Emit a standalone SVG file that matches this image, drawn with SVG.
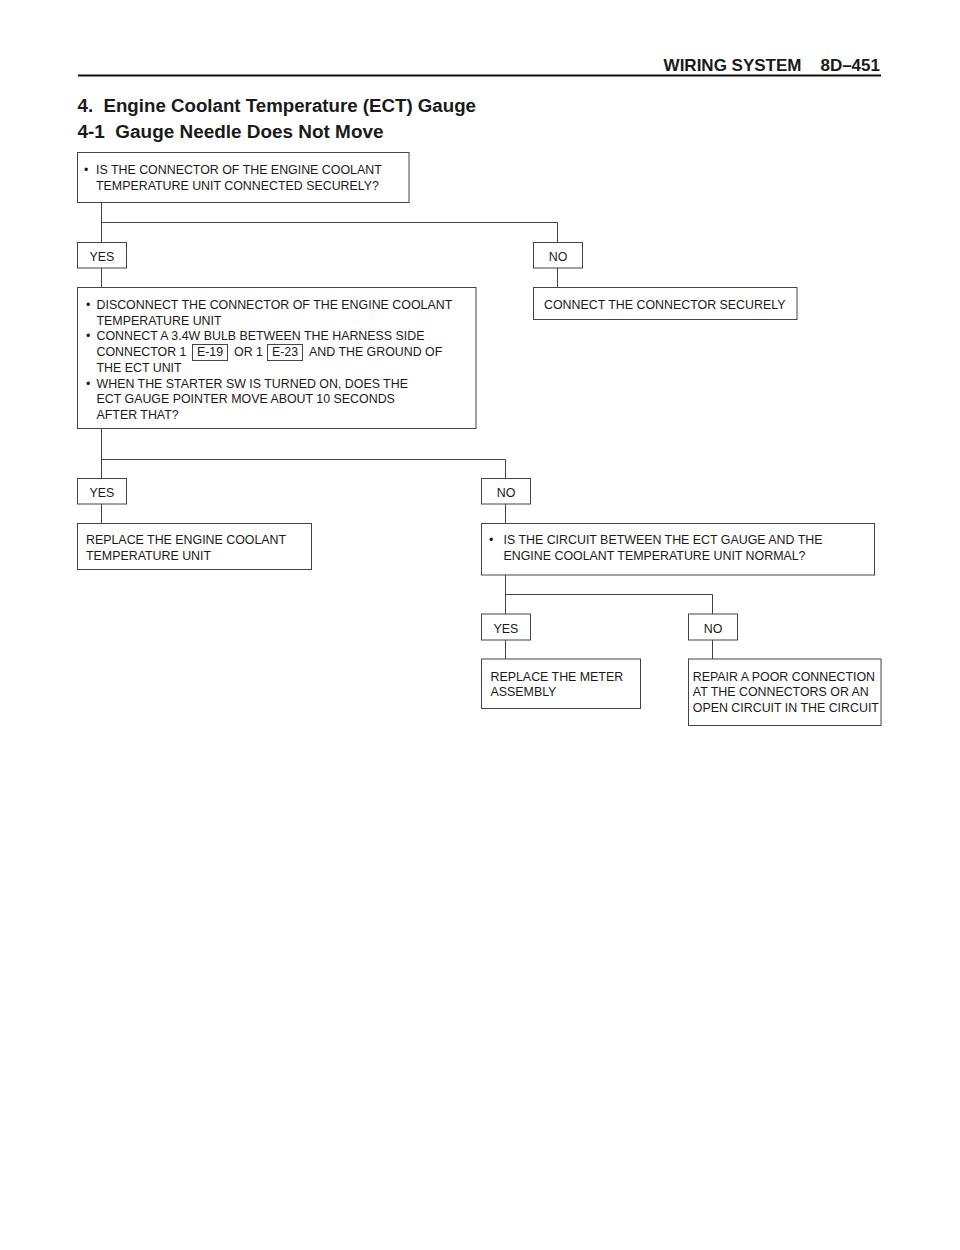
<svg xmlns="http://www.w3.org/2000/svg" width="960" height="1250" viewBox="0 0 960 1250">
<style>
text{font-family:"Liberation Sans",Arial,Helvetica,sans-serif;fill:#1a1a1a}
.hd{font-size:17px;font-weight:bold}
.ti{font-size:17.5px;font-weight:bold}
.t{font-size:12.4px}
.c{text-anchor:middle}
.box{fill:#fff;stroke:#444;stroke-width:1}
.ref{fill:none;stroke:#444;stroke-width:1}
.ln{fill:none;stroke:#444;stroke-width:1}
</style>
<rect width="960" height="1250" fill="#fff"/>
<g id="header">
<text class="hd" x="801.5" y="70.5" text-anchor="end">WIRING SYSTEM</text>
<text class="hd" x="880" y="70.5" text-anchor="end">8D–451</text>
<line x1="78" y1="75.5" x2="881" y2="75.5" stroke="#111" stroke-width="2"/>
<text class="ti" x="77.5" y="112" textLength="398.5" lengthAdjust="spacingAndGlyphs" xml:space="preserve">4.  Engine Coolant Temperature (ECT) Gauge</text>
<text class="ti" x="77.5" y="138" textLength="306" lengthAdjust="spacingAndGlyphs" xml:space="preserve">4-1  Gauge Needle Does Not Move</text>
</g>
<g id="connectors">
<polyline class="ln" points="101.5,202.5 101.5,242.5"/>
<polyline class="ln" points="101.5,222.5 557.5,222.5 557.5,242.5"/>
<polyline class="ln" points="101.5,268 101.5,287.5"/>
<polyline class="ln" points="557.5,268 557.5,287.5"/>
<polyline class="ln" points="101.5,428.5 101.5,478.5"/>
<polyline class="ln" points="101.5,459.5 505.5,459.5 505.5,478.5"/>
<polyline class="ln" points="101.5,504 101.5,523.5"/>
<polyline class="ln" points="505.5,504 505.5,523.5"/>
<polyline class="ln" points="505.5,575 505.5,614"/>
<polyline class="ln" points="505.5,594.5 712.5,594.5 712.5,614"/>
<polyline class="ln" points="505.5,640 505.5,659"/>
<polyline class="ln" points="712.5,640 712.5,659"/>
</g>
<g id="q1">
<rect class="box" x="77.5" y="152.5" width="331.5" height="50"/>
<text class="t" x="84" y="174">•</text>
<text class="t" x="96" y="174">IS THE CONNECTOR OF THE ENGINE COOLANT</text>
<text class="t" x="96" y="190">TEMPERATURE UNIT CONNECTED SECURELY?</text>
</g>
<g id="yes1">
<rect class="box" x="77.5" y="242.5" width="49" height="25.5"/>
<text class="t c" x="102" y="260.5">YES</text>
</g>
<g id="no1">
<rect class="box" x="533.5" y="242.5" width="49" height="25.5"/>
<text class="t c" x="558" y="260.5">NO</text>
</g>
<g id="connect">
<rect class="box" x="533.5" y="287.5" width="263.5" height="32"/>
<text class="t" x="544" y="308.5">CONNECT THE CONNECTOR SECURELY</text>
</g>
<g id="q2">
<rect class="box" x="77.5" y="287.5" width="398.5" height="141"/>
<text class="t" x="86" y="309">•</text>
<text class="t" x="96.5" y="309">DISCONNECT THE CONNECTOR OF THE ENGINE COOLANT</text>
<text class="t" x="96.5" y="324.7">TEMPERATURE UNIT</text>
<text class="t" x="86" y="340.4">•</text>
<text class="t" x="96.5" y="340.4">CONNECT A 3.4W BULB BETWEEN THE HARNESS SIDE</text>
<text class="t" x="96.5" y="356.1">CONNECTOR 1</text>
<rect class="ref" x="192.5" y="344.5" width="35" height="16"/>
<text class="t c" x="210" y="356.1">E-19</text>
<text class="t" x="234" y="356.1">OR 1</text>
<rect class="ref" x="267.5" y="344.5" width="35" height="16"/>
<text class="t c" x="285" y="356.1">E-23</text>
<text class="t" x="309" y="356.1">AND THE GROUND OF</text>
<text class="t" x="96.5" y="371.8">THE ECT UNIT</text>
<text class="t" x="86" y="387.5">•</text>
<text class="t" x="96.5" y="387.5">WHEN THE STARTER SW IS TURNED ON, DOES THE</text>
<text class="t" x="96.5" y="403.2">ECT GAUGE POINTER MOVE ABOUT 10 SECONDS</text>
<text class="t" x="96.5" y="418.9">AFTER THAT?</text>
</g>
<g id="yes2">
<rect class="box" x="77.5" y="478.5" width="49" height="25.5"/>
<text class="t c" x="102" y="496.5">YES</text>
</g>
<g id="no2">
<rect class="box" x="481.5" y="478.5" width="49" height="25.5"/>
<text class="t c" x="506" y="496.5">NO</text>
</g>
<g id="replaceect">
<rect class="box" x="77.5" y="523.5" width="234" height="46"/>
<text class="t" x="86" y="544.3">REPLACE THE ENGINE COOLANT</text>
<text class="t" x="86" y="560.3">TEMPERATURE UNIT</text>
</g>
<g id="q3">
<rect class="box" x="481.5" y="523.5" width="393" height="51.5"/>
<text class="t" x="489" y="544.3">•</text>
<text class="t" x="503.5" y="544.3">IS THE CIRCUIT BETWEEN THE ECT GAUGE AND THE</text>
<text class="t" x="503.5" y="560.3">ENGINE COOLANT TEMPERATURE UNIT NORMAL?</text>
</g>
<g id="yes3">
<rect class="box" x="481.5" y="614" width="49" height="26"/>
<text class="t c" x="506" y="632.5">YES</text>
</g>
<g id="no3">
<rect class="box" x="688.5" y="614" width="49" height="26"/>
<text class="t c" x="713" y="632.5">NO</text>
</g>
<g id="meter">
<rect class="box" x="481.5" y="659" width="159" height="49.5"/>
<text class="t" x="490.5" y="680.7">REPLACE THE METER</text>
<text class="t" x="490.5" y="696.4">ASSEMBLY</text>
</g>
<g id="repair">
<rect class="box" x="688.5" y="659" width="192.5" height="66.5"/>
<text class="t" x="692.8" y="680.7">REPAIR A POOR CONNECTION</text>
<text class="t" x="692.8" y="696.4">AT THE CONNECTORS OR AN</text>
<text class="t" x="692.8" y="712.1">OPEN CIRCUIT IN THE CIRCUIT</text>
</g>
</svg>
